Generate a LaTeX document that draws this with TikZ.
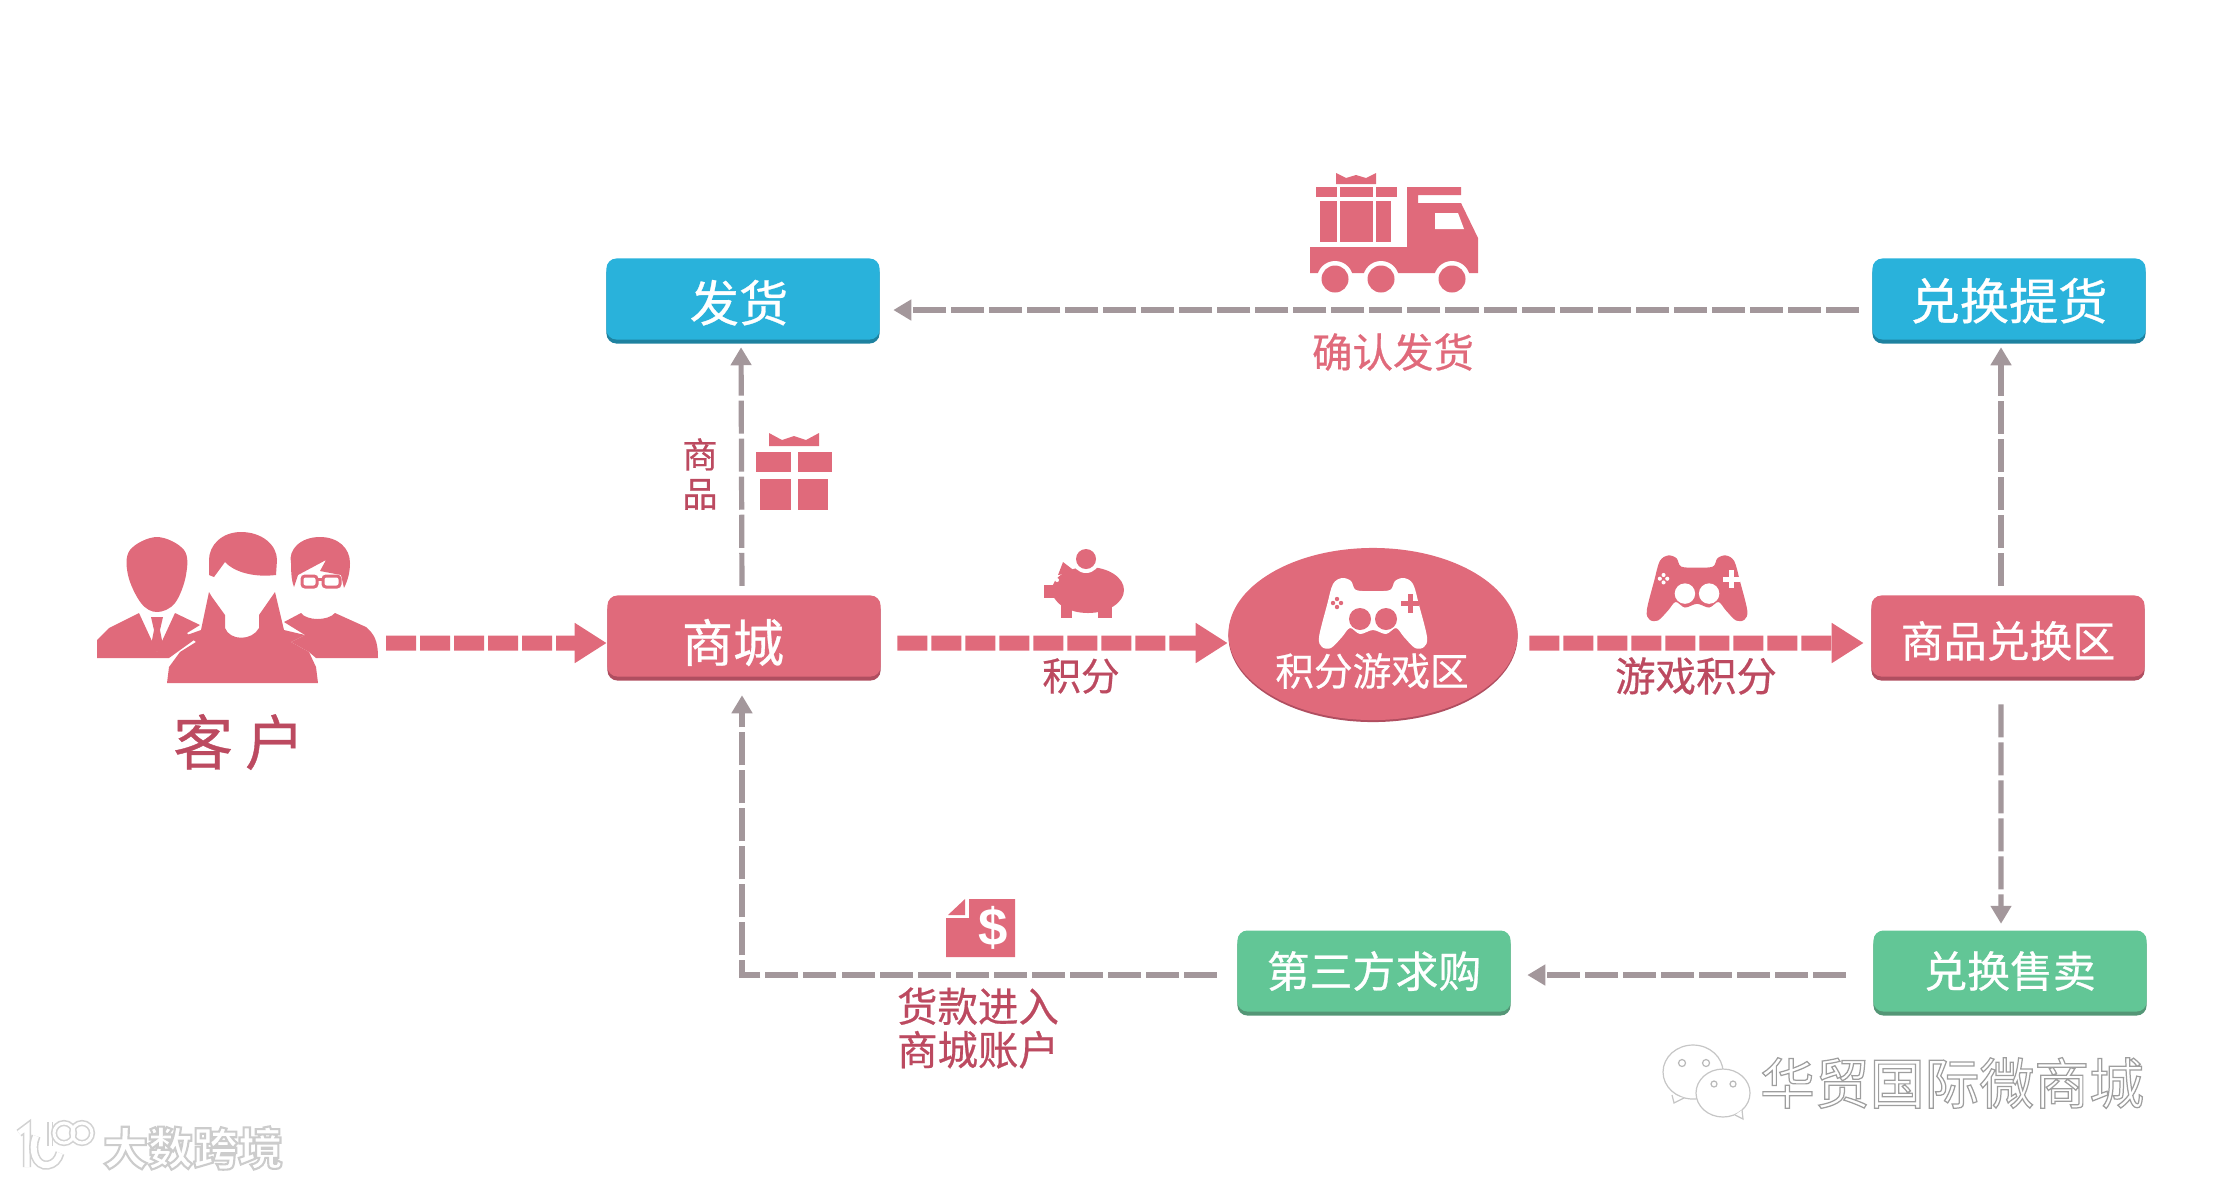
\documentclass[tikz,border=0pt]{standalone}
\usepackage{fontspec}
\setmainfont{Noto Sans CJK SC}
\newfontfamily\labelfont{Noto Sans CJK SC}[FakeBold=.6]
\newfontfamily\dollarfont{Liberation Sans}
\usetikzlibrary{arrows.meta,shapes.geometric,shadows}
\definecolor{rosefill}{RGB}{224,106,123}
\definecolor{rosedeep}{RGB}{188,74,96}
\definecolor{roseedge}{RGB}{176,78,96}
\definecolor{skyfill}{RGB}{41,178,219}
\definecolor{skyedge}{RGB}{30,130,160}
\definecolor{mintfill}{RGB}{98,198,150}
\definecolor{mintedge}{RGB}{84,150,118}
\definecolor{flowgrey}{RGB}{163,151,155}
\newcommand{\fs}[1]{\labelfont\fontsize{#1}{#1}\selectfont}
\newcommand{\outlined}[3]{\special{pdf:code 2 Tr #1 w #2 G}#3\special{pdf:code 0 Tr}}
\tikzset{
  flowbox/.style={rounded corners=.1cm,minimum width=2.73cm,minimum height=.81cm,inner sep=0pt,text=white},
  rosebox/.style={flowbox,fill=rosefill,drop shadow={shadow xshift=0cm,shadow yshift=-.04cm,fill=roseedge,opacity=1}},
  skybox/.style={flowbox,fill=skyfill,drop shadow={shadow xshift=0cm,shadow yshift=-.04cm,fill=skyedge,opacity=1}},
  mintbox/.style={flowbox,fill=mintfill,drop shadow={shadow xshift=0cm,shadow yshift=-.04cm,fill=mintedge,opacity=1}},
  thickflow/.style={rosefill,line width=.15cm,dash pattern=on .3cm off .04cm,-{Triangle[length=.32cm,width=.38cm]}},
  thinflow/.style={flowgrey,line width=.052cm,dash pattern=on .33cm off .05cm,-{Triangle[length=.18cm,width=.2cm]}},
  caption/.style={text=rosedeep,inner sep=0pt,align=center},
  logoline/.style={gray!35,double=white,line width=.016cm}
}
% game controller: centre x, centre y, scale, body colour, hole colour
\newcommand{\gamepad}[5]{
  \begin{scope}[shift={(#1,#2)},scale=#3]
    \fill[#4] plot[smooth cycle,tension=.55] coordinates {(-31,-35) (-22,-32) (-17,-23) (0,-22) (17,-23)
      (22,-32) (31,-35) (40,-29) (46,-8) (54,24) (51,34) (42,35) (31,24) (23,15) (13,21) (0,17) (-13,21)
      (-23,15) (-31,24) (-42,35) (-51,34) (-54,24) (-46,-8) (-40,-29)};
    \foreach \hx in {-13,13}{
      \fill[#5] (\hx,6) circle (11);
    }
    \foreach \padx/\pady in {-40/-10,-32/-10,-36/-14,-36/-6}{
      \fill[#5] (\padx,\pady) circle (2.2);
    }
    \fill[#5] (28,-12) rectangle (46,-7);
    \fill[#5] (34.5,-19) rectangle (39.5,0);
  \end{scope}
}
\begin{document}
\begin{tikzpicture}[x=.01cm,y=-.01cm]
  \useasboundingbox (0,0) rectangle (2216,1184);

  % Boxes
  \node[skybox,font=\fs{14},text height=.49cm] (ship) at (743,299) {发货\hspace*{.08cm}};
  \node[skybox,font=\fs{14},text height=.45cm] (pickup) at (2009,299) {兑换提货};
  \node[rosebox,font=\fs{14.5},text height=.56cm] (mall) at (744,636) {商城\hspace*{.22cm}};
  \node[rosebox,font=\fs{12.2},text height=.46cm] (exchange) at (2008,636) {商品兑换区};
  \node[mintbox,font=\fs{12.2}] (buyer) at (1374,971) {第三方求购};
  \node[mintbox,font=\fs{12.2}] (resale) at (2010,971) {兑换售卖};

  % Game zone
  \node[ellipse,fill=rosefill,minimum width=2.89cm,minimum height=1.72cm,inner sep=0pt,
    drop shadow={shadow xshift=0cm,shadow yshift=-.02cm,fill=roseedge,opacity=1}] (zone) at (1373,634) {};
  \gamepad{1373}{613}{1}{white}{rosefill}
  \node[text=white,inner sep=0pt,font=\fs{11}] (zonetext) at (1372,671) {积分游戏区};

  % Customers
  \coordinate (crowd) at (386,643);
  \fill[rosefill] plot[smooth cycle,tension=.6] coordinates {(157,537) (130,550) (128,575) (141,603) (157,612) (175,603) (186,575) (184,550)};
  \fill[rosefill] (97,658) -- (97,640) -- (109,628) -- (139,613) -- (157,652) -- (175,613) -- (200,625)
    -- (187,633) -- (194,640) -- (169,658) -- cycle;
  \fill[rosefill] (151,617) -- (163,617) -- (160,630) -- (163,645) -- (157,652) -- (151,645) -- (154,630) -- cycle;
  \fill[rosefill] (320,537) .. controls (300,537) and (288,550) .. (291,563) .. controls (291,575) and (292,582) .. (294,587)
    -- (298,575) -- (326,560) -- (320,571) -- (341,575) -- (344,588) .. controls (348,580) and (350,572) .. (350,563)
    .. controls (350,548) and (338,537) .. (320,537) -- cycle;
  \draw[rosefill,line width=.03cm,rounded corners=.03cm] (302,576) rectangle (317,587) (323,576) rectangle (340,587);
  \draw[rosefill,line width=.03cm] (317,579) -- (323,579);
  \fill[rosefill] (284,622) -- (301,613) .. controls (307,621) and (328,621) .. (335,613) -- (366,627)
    .. controls (374,634) and (378,640) .. (378,658) -- (316,658) -- (309,652) -- (291,642) -- (305,635) -- cycle;
  \fill[rosefill] (241,532) .. controls (222,532) and (209,545) .. (209,560) -- (209,575) -- (214,577) -- (225,562)
    .. controls (232,570) and (250,578) .. (276,575) -- (277,560) .. controls (277,545) and (262,532) .. (241,532) -- cycle;
  \fill[rosefill] (167,683) -- (169,667) -- (180,652) -- (196,642) -- (187,635) -- (201,630) -- (209,592) -- (212,597)
    -- (225,615) -- (225,628) .. controls (230,641) and (252,641) .. (259,628) -- (259,615) -- (275,592) -- (284,630)
    -- (305,635) -- (291,642) -- (309,652) -- (316,667) -- (318,683) -- cycle;
  \node[caption,font=\fs{17}] (crowdtext) at (239,742) {客\hspace{.12cm}户};

  % Truck
  \fill[rosefill] (1310,247) -- (1407,247) -- (1407,187) -- (1461,187) -- (1461,195) -- (1418,195) -- (1418,203)
    -- (1461,203) -- (1478,238) -- (1478,273) -- (1310,273) -- cycle;
  \fill[white] (1435,213) -- (1458,213) -- (1464,229) -- (1435,229) -- cycle;
  \foreach \wx in {1335,1381,1452}{
    \fill[white] (\wx,279) circle (18);
    \fill[rosefill] (\wx,279) circle (13.5);
  }
  \fill[rosefill] (1316,187) rectangle (1397,197);
  \fill[rosefill] (1320,201) rectangle (1391,242);
  \foreach \sx in {1337,1373}{
    \fill[white] (\sx,187) rectangle (\sx+3,242);
  }
  \fill[rosefill] (1336,184) -- (1336,173) -- (1346,178) -- (1356,175) -- (1366,178) -- (1376,173) -- (1376,184) -- cycle;
  \node[caption,text=rosefill,font=\fs{11.5}] (shiptext) at (1393,352) {确认发货};

  % Gift
  \fill[rosefill] (769,446) -- (769,433) -- (782,440) -- (794,436) -- (806,440) -- (819,433) -- (819,446) -- cycle;
  \fill[rosefill] (756,452) rectangle (832,472);
  \fill[rosefill] (760,479) rectangle (828,510);
  \fill[white] (791,452) rectangle (798,510);
  \node[caption,font=\fs{10}] (goods) at (700,474) {商\\[.04cm]品};

  % Piggy bank
  \fill[rosefill] (1088,590) ellipse (36 and 23);
  \fill[rosefill] (1044,585) rectangle (1060,598);
  \fill[rosefill] (1058,575) -- (1063,562) -- (1076,572) -- cycle;
  \fill[rosefill] (1061,600) rectangle (1072,618);
  \fill[rosefill] (1098,600) rectangle (1112,618);
  \fill[white] (1086,559) circle (14);
  \fill[rosefill] (1086,559) circle (10);
  \fill[white] (1057,580) circle (2);
  \node[caption,font=\fs{11}] (points) at (1081,676) {积分};

  % Second controller
  \gamepad{1697}{588}{.93}{rosefill}{white}
  \node[caption,font=\fs{11.5}] (gamepoints) at (1696,676) {游戏积分};

  % Dollar sheet
  \fill[rosefill] (969,899) -- (1015,899) -- (1015,957) -- (946,957) -- (946,918) -- (969,918) -- cycle;
  \fill[rosefill] (965,899) -- (948,915) -- (965,915) -- cycle;
  \node[text=white,inner sep=0pt,font=\dollarfont\bfseries\fontsize{15}{15}\selectfont] (dollar) at (993,928) {\$};
  \node[caption,font=\fs{11.5}] (payment) at (978,1028) {货款进入\\[.03cm]商城账户};

  % Thick arrows
  \draw[thickflow] (crowd) -- ([yshift=-.07cm]mall.west);
  \draw[thickflow,shorten <=.16cm] ([yshift=-.07cm]mall.east) -- ([yshift=-.09cm]zone.west);
  \draw[thickflow,shorten <=.11cm,shorten >=.07cm] ([yshift=-.09cm]zone.east) -- ([yshift=-.07cm]exchange.west);

  % Thin arrows
  \draw[thinflow,shorten <=.13cm,shorten >=.13cm] (pickup.west |- 0,310) -- (ship.east |- 0,310);
  \draw[thinflow,shorten <=.09cm,shorten >=.07cm] ([xshift=-.02cm]mall.north) -- ([xshift=-.02cm]ship.south);
  \draw[thinflow,shorten <=.09cm,shorten >=.07cm] ([xshift=-.07cm]exchange.north) -- ([xshift=-.08cm]pickup.south);
  \draw[thinflow,shorten <=.27cm,shorten >=.06cm] ([xshift=-.07cm]exchange.south) -- ([xshift=-.09cm]resale.north);
  \draw[thinflow,shorten <=.27cm,shorten >=.16cm] (resale.west |- 0,975) -- (buyer.east |- 0,975);
  \draw[thinflow,shorten <=.2cm,shorten >=.18cm] (buyer.west |- 0,975) -| ([xshift=-.02cm]mall.south);

  % Watermarks
  \draw[gray!45,fill=white,line width=.012cm] (1693,1072) ellipse (30 and 27);
  \draw[gray!45,fill=white,line width=.012cm] (1723,1093) ellipse (27 and 24);
  \draw[gray!45,fill=white,line width=.012cm] (1672,1095) -- (1674,1103) -- (1684,1098);
  \draw[gray!45,fill=white,line width=.012cm] (1735,1115) -- (1743,1119) -- (1742,1110);
  \foreach \eyex/\eyey/\eyer in {1682/1063/3.5,1706/1063/3.5,1714/1084/3,1733/1084/3}{
    \draw[gray!55,line width=.012cm] (\eyex,\eyey) circle (\eyer);
  }
  \node[inner sep=0pt,text=white,font=\fontsize{15.6}{15.6}\selectfont] (wechatmark) at (1952,1083) {\outlined{.35}{.62}{华贸国际微商城}};
  \draw[logoline,double distance=.05cm] (19,1133) -- (27,1127) -- (27,1167);
  \draw[logoline,double distance=.06cm] (36,1136) .. controls (30,1150) and (36,1167) .. (48,1165) .. controls (54,1164) and (58,1160) .. (60,1153);
  \draw[logoline,double distance=.03cm] (50,1122) -- (50,1146);
  \draw[logoline,double distance=.03cm] (64,1133) circle (10) (82,1133) circle (10);
  \node[inner sep=0pt,text=white,font=\fontsize{12.8}{12.8}\selectfont\bfseries] (datamark) at (193,1148) {\outlined{.6}{.8}{大数跨境}};
\end{tikzpicture}
\end{document}
